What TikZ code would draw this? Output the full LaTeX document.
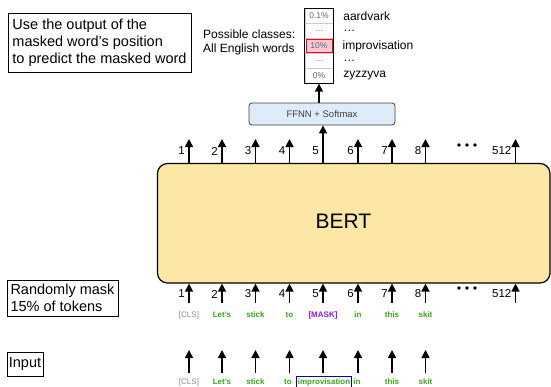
\documentclass[tikz,border=0pt]{standalone}
\usepackage{fontspec}
\setmainfont{Liberation Sans}
\usetikzlibrary{arrows.meta,positioning}
\definecolor{bertyellow}{RGB}{253,231,167}
\definecolor{ffnnblue}{RGB}{222,236,250}
\definecolor{tokgreen}{RGB}{60,165,20}
\definecolor{maskpurple}{RGB}{140,20,240}
\definecolor{probpink}{RGB}{248,200,216}

\begin{document}
\begin{tikzpicture}[x=1pt, y=-1pt, every node/.style={inner sep=0pt},
	>={Triangle[length=8pt,width=8pt]},
	arr/.style={->, line width=1.5pt},
	note/.style={draw, line width=0.8pt, align=left, font=\fontsize{14.5}{17}\selectfont},
	num/.style={anchor=east, font=\fontsize{11.5}{13}\selectfont},
	tok/.style={font=\fontsize{8}{9}\selectfont\bfseries, text=tokgreen},
	clstok/.style={font=\fontsize{8}{9}\selectfont, text=black!45},
	masktok/.style={font=\fontsize{8}{9}\selectfont\bfseries, text=maskpurple},
	cell/.style={draw=black!20, minimum width=28pt, minimum height=15pt, font=\fontsize{8.5}{10}\selectfont, text=black!60},
	word/.style={right=10pt of #1, font=\fontsize{12}{14}\selectfont}]
	\useasboundingbox (0,0) rectangle (551,386);
	% notes on the left
	\node[note, minimum width=183pt, minimum height=59pt] (goal) at (99.5,42.5) {Use the output of the\\masked word's position\\to predict the masked word};
	\node[note, minimum width=111pt, minimum height=36pt] (masknote) at (62.5,298) {Randomly mask\\15\% of tokens};
	\node[note, minimum width=36pt, minimum height=24pt] (inputnote) at (25,364) {Input};
	% output classes
	\node[anchor=west, align=left, font=\fontsize{12}{14}\selectfont] (classes) at (203,42) {Possible classes:\\All English words};
	\node[cell] (p1) at (319,16) {0.1\%};
	\node[cell] (p2) at (319,31) {\dots};
	\node[cell, draw=red, fill=probpink, line width=0.9pt, minimum width=26pt, minimum height=13.5pt] (p3) at (319,46) {10\%};
	\node[cell] (p4) at (319,61) {\dots};
	\node[cell] (p5) at (319,76) {0\%};
	\draw[line width=0.9pt] (p1.north west) rectangle (p5.south east);
	\node[word=p1] (w1) {aardvark};
	\node[word=p2] (w2) {\dots};
	\node[word=p3] (w3) {improvisation};
	\node[word=p4] (w4) {\dots};
	\node[word=p5] (w5) {zyzzyva};
	\node[draw=black!75, line width=0.8pt, fill=ffnnblue, rounded corners=3pt, minimum width=146pt, minimum height=22pt, font=\fontsize{9.5}{11}\selectfont, text=black!75] (ffnn) at (322,114) {FFNN + Softmax};
	\draw[arr] (p5.south |- ffnn.north) -- (p5.south);
	% BERT
	\node[draw, line width=1.2pt, rounded corners=10pt, fill=bertyellow, minimum width=392.5pt, minimum height=119.5pt] (bert) at (353.75,223.25) {};
	\node[font=\fontsize{21}{25}\selectfont] (bertname) at (343.5,221.5) {BERT};
	\foreach \i/\x/\n in {1/189/1,2/222/2,3/255.5/3,4/289.5/4,5/323/5,6/358/6,7/392/7,8/425.5/8,9/515.5/512} {
		\coordinate (out\i) at (\x,139);
		\coordinate (mb\i) at (\x,303);
		\node[num] (on\i) at (\x-4,151) {\n};
		\node[num] (mn\i) at (\x-4,294) {\n};
		\draw[arr] (mb\i) -- (mb\i |- bert.south);
	}
	\foreach \i in {1,2,3,4,6,7,8,9}
		\draw[arr] (out\i |- bert.north) -- (out\i);
	\draw[arr] (out5 |- bert.north) -- (out5 |- ffnn.south);
	\foreach \d in {459,467,475} {
		\fill (\d,145) circle (1.9pt);
		\fill (\d,288) circle (1.9pt);
	}
	% masked tokens
	\foreach \i/\x/\t/\s in {1/189/{[CLS]}/clstok,2/222/{Let's}/tok,3/255.5/stick/tok,4/289.5/to/tok,5/323/{[MASK]}/masktok,6/358/in/tok,7/392/this/tok,8/425.5/skit/tok}
		\node[\s] (m\i) at (\x,315) {\t};
	% input tokens
	\foreach \i/\x/\t/\s in {1/189/{[CLS]}/clstok,2/222/{Let's}/tok,3/255.5/stick/tok,4/288/to/tok,6/357/in/tok,7/392/this/tok,8/425.5/skit/tok}
		\node[\s] (in\i) at (\x,382) {\t};
	\node[tok, draw=blue!70!black, line width=0.8pt, inner sep=1.5pt] (in5) at (324,382) {improvisation};
	\foreach \i/\x in {1/189,2/222,3/255.5,4/289.5,5/323,6/358,7/392,8/425.5} {
		\coordinate (ib\i) at (\x,373);
		\coordinate (it\i) at (\x,350);
		\draw[arr] (ib\i) -- (it\i);
	}
\end{tikzpicture}
\end{document}
